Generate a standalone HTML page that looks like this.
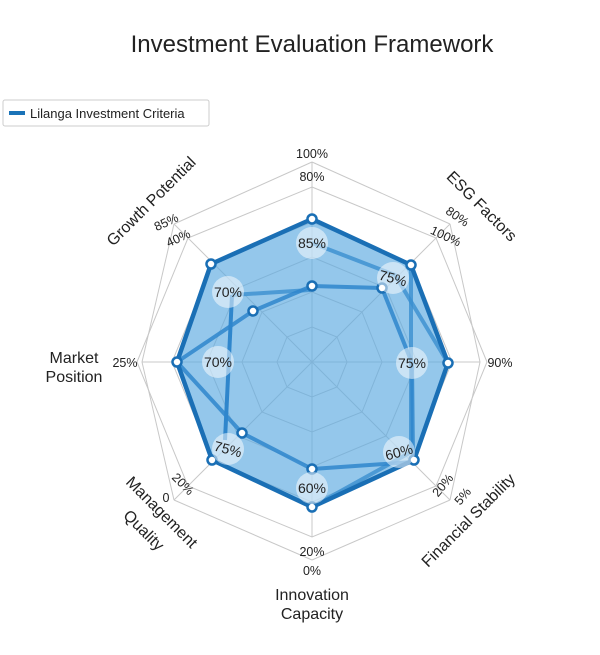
<!DOCTYPE html>
<html><head><meta charset="utf-8"><style>
body{margin:0;background:#fff;}
svg text{font-family:"Liberation Sans",sans-serif;fill:#222;}
</style></head><body>
<svg width="600" height="650" viewBox="0 0 600 650" xmlns="http://www.w3.org/2000/svg">
<text x="312" y="52" font-size="24" text-anchor="middle" fill="#111">Investment Evaluation Framework</text>
<rect x="3" y="100" width="206" height="26" rx="2" fill="#fff" stroke="#ccc"/>
<line x1="9" y1="113" x2="25" y2="113" stroke="#1a73b8" stroke-width="4"/>
<text x="30" y="118" font-size="13">Lilanga Investment Criteria</text>
<g stroke="#c8c8c8" stroke-width="1" fill="none">
<polygon points="312,187 436,238 487,362 436,486 312,537 188,486 137,362 188,238"/>
<polygon points="312,222 411,263 452,362 411,461 312,502 213,461 172,362 213,263"/>
<polygon points="312,257 386,288 417,362 386,436 312,467 238,436 207,362 238,288"/>
<polygon points="312,292 362,312 382,362 362,412 312,432 262,412 242,362 262,312"/>
<polygon points="312,327 337,337 347,362 337,387 312,397 287,387 277,362 287,337"/>
<line x1="312" y1="362" x2="312" y2="162"/><line x1="312" y1="362" x2="450" y2="224"/>
<line x1="312" y1="362" x2="480" y2="362"/><line x1="312" y1="362" x2="450" y2="500"/>
<line x1="312" y1="362" x2="312" y2="537"/><line x1="312" y1="362" x2="174" y2="500"/>
<line x1="312" y1="362" x2="142" y2="362"/><line x1="312" y1="362" x2="174" y2="224"/>
<line x1="312" y1="162" x2="450" y2="224"/><line x1="312" y1="162" x2="174" y2="224"/>
<line x1="450" y1="224" x2="480" y2="362"/><line x1="174" y1="224" x2="142" y2="362"/>
<line x1="480" y1="362" x2="450" y2="500"/><line x1="142" y1="362" x2="174" y2="500"/>
<line x1="450" y1="500" x2="312" y2="560"/><line x1="174" y1="500" x2="312" y2="560"/>
</g>
<polygon points="312,219 411,265 448,363 414,460 312,507 212,460 177,362 211,264" fill="#5aa9e0" fill-opacity="0.65" stroke="none"/>
<g fill="none" stroke-linejoin="round">
<polyline points="312,243 395,275 448,363" stroke="#3a8fd0" stroke-width="4" opacity="0.8"/>
<polyline points="232,295 225,440" stroke="#2f86cc" stroke-width="4"/>
<polyline points="232,295 310,290" stroke="#3a8fd0" stroke-width="4" opacity="0.8"/>
<polyline points="411,265 411,452 312,507" stroke="#3a8fd0" stroke-width="4" opacity="0.8"/>
<polygon points="312,286 382,288 412,363 413,462 312,469 242,433 177,362 253,311" stroke="#2f86cc" stroke-width="4" opacity="0.85"/>
<polygon points="312,219 411,265 448,363 414,460 312,507 212,460 177,362 211,264" stroke="#1a6fb5" stroke-width="4.5"/>
</g>
<g fill="#fff" stroke="#1a6fb5" stroke-width="2.5">
<circle cx="312" cy="219" r="4.5"/><circle cx="411" cy="265" r="4.5"/><circle cx="448" cy="363" r="4.5"/><circle cx="414" cy="460" r="4.5"/><circle cx="312" cy="507" r="4.5"/><circle cx="212" cy="460" r="4.5"/><circle cx="177" cy="362" r="4.5"/><circle cx="211" cy="264" r="4.5"/>
<circle cx="312" cy="286" r="4.5"/><circle cx="382" cy="288" r="4.5"/><circle cx="312" cy="469" r="4.5"/><circle cx="242" cy="433" r="4.5"/><circle cx="253" cy="311" r="4.5"/>
</g>
<g fill="#fff" fill-opacity="0.5">
<circle cx="312" cy="243" r="16"/><circle cx="393" cy="278" r="16"/><circle cx="412" cy="363" r="16"/><circle cx="399" cy="452" r="16"/><circle cx="312" cy="488" r="16"/><circle cx="228" cy="449" r="16"/><circle cx="218" cy="362" r="16"/><circle cx="228" cy="292" r="16"/>
</g>
<g font-size="14" text-anchor="middle">
<text x="312" y="248">85%</text><text x="393" y="283" transform="rotate(15 393 278)">75%</text><text x="412" y="368">75%</text><text x="399" y="457" transform="rotate(-15 399 452)">60%</text><text x="312" y="493">60%</text><text x="228" y="454" transform="rotate(15 228 449)">75%</text><text x="218" y="367">70%</text><text x="228" y="297">70%</text>
</g>
<g font-size="12.5" text-anchor="middle">
<text x="312" y="158">100%</text><text x="312" y="181">80%</text>
<text x="500" y="367">90%</text><text x="125" y="367">25%</text>
<text x="312" y="556">20%</text><text x="312" y="575">0%</text>
<text x="168" y="226" transform="rotate(-25 168 226)">85%</text><text x="180" y="242" transform="rotate(-25 180 242)">40%</text>
<text x="455" y="220" transform="rotate(35 455 220)">80%</text><text x="444" y="240" transform="rotate(25 444 240)">100%</text>
<text x="180" y="487" transform="rotate(45 180 487)">20%</text><text x="166" y="502">0</text>
<text x="446" y="488" transform="rotate(-50 446 488)">20%</text><text x="466" y="499" transform="rotate(-50 466 499)">5%</text>
</g>
<g font-size="16" text-anchor="middle">
<text x="155" y="205" transform="rotate(-45 155 205)">Growth Potential</text>
<text x="478" y="210" transform="rotate(45 478 210)">ESG Factors</text>
<text x="74" y="363">Market</text><text x="74" y="382">Position</text>
<text x="312" y="600">Innovation</text><text x="312" y="619">Capacity</text>
<text x="472" y="524" transform="rotate(-45 472 524)">Financial Stability</text>
<text x="158" y="516" transform="rotate(45 158 516)">Management</text>
<text x="140" y="534" transform="rotate(45 140 534)">Quality</text>
</g>
</svg>
</body></html>
